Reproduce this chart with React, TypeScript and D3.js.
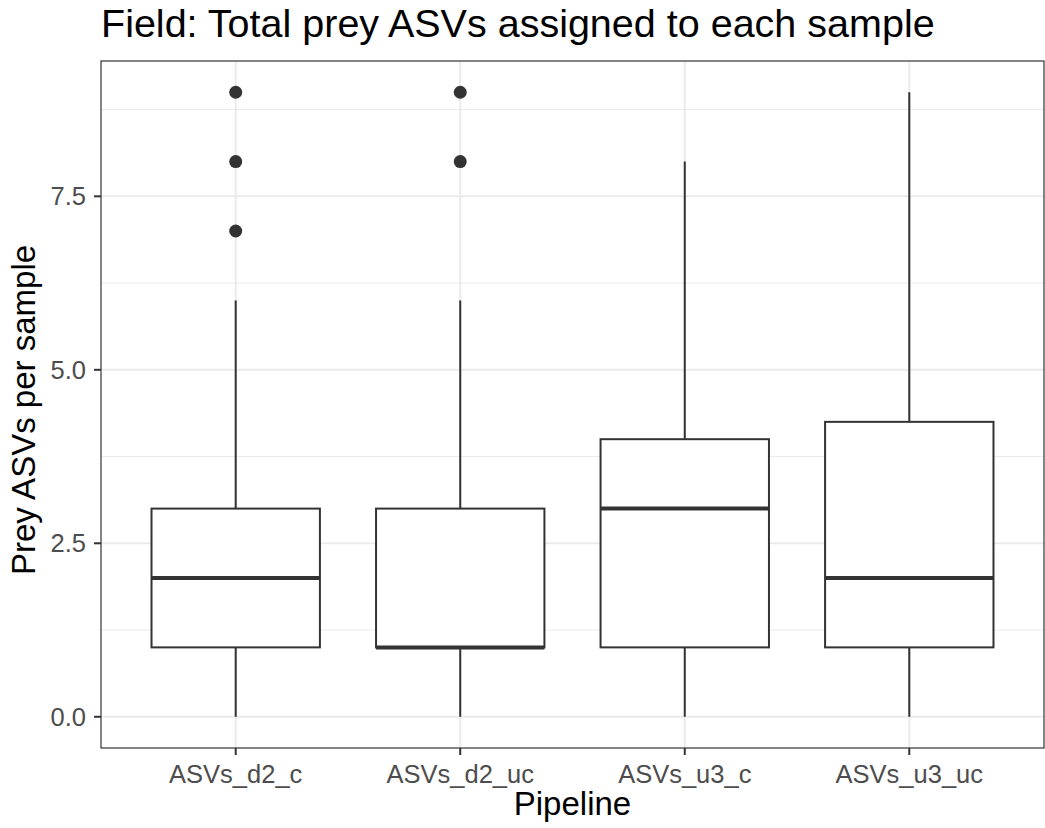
import * as React from 'react';
import * as d3 from 'd3';

const pipelines: string[] = ['ASVs_d2_c', 'ASVs_d2_uc', 'ASVs_u3_c', 'ASVs_u3_uc'];
const lowerWhisker: number[] = [0, 0, 0, 0];
const q1: number[] = [1, 1, 1, 1];
const medians: number[] = [2, 1, 3, 2];
const q3: number[] = [3, 3, 4, 4.25];
const upperWhisker: number[] = [6, 6, 8, 9];
const outliers: number[][] = [[7, 8, 9], [8, 9], [], []];
const yTicks: number[] = [0, 2.5, 5, 7.5];
const yMinor: number[] = [1.25, 3.75, 6.25, 8.75];

const W = 1045;
const H = 828;
const panel = { left: 101, right: 1044, top: 61, bottom: 748 };
const font = '"Liberation Sans", Arial, Helvetica, sans-serif';

export default function App() {
	// ggplot-style discrete expansion: 0.6 units each side
	const x = d3
		.scaleLinear()
		.domain([0.4, pipelines.length + 0.6])
		.range([panel.left, panel.right]);
	const y = d3.scaleLinear().domain([-0.45, 9.45]).range([panel.bottom, panel.top]);
	const boxW = x(0.75) - x(0);

	return (
		<svg
			width={W}
			height={H}
			viewBox={`0 0 ${W} ${H}`}
			style={{ position: 'absolute', left: 0, top: 0, background: '#fff' }}
		>
			<rect x={0} y={0} width={W} height={H} fill="#fff" />
			<text x={panel.left} y={37} fontFamily={font} fontSize={39.5} fill="#000">
				Field: Total prey ASVs assigned to each sample
			</text>

			{/* grid */}
			<g>
				{yMinor.map((v) => (
					<line key={'mn' + v} x1={panel.left} x2={panel.right} y1={y(v)} y2={y(v)} stroke="#ebebeb" strokeWidth={1} />
				))}
				{yTicks.map((v) => (
					<line key={'mj' + v} x1={panel.left} x2={panel.right} y1={y(v)} y2={y(v)} stroke="#ebebeb" strokeWidth={2} />
				))}
				{pipelines.map((p, i) => (
					<line key={'vx' + p} x1={x(i + 1)} x2={x(i + 1)} y1={panel.top} y2={panel.bottom} stroke="#ebebeb" strokeWidth={2} />
				))}
			</g>

			{/* boxes */}
			{pipelines.map((p, i) => {
				const cx = x(i + 1);
				return (
					<g key={p}>
						<line x1={cx} x2={cx} y1={y(q3[i])} y2={y(upperWhisker[i])} stroke="#333333" strokeWidth={2} />
						<line x1={cx} x2={cx} y1={y(q1[i])} y2={y(lowerWhisker[i])} stroke="#333333" strokeWidth={2} />
						<rect
							x={cx - boxW / 2}
							y={y(q3[i])}
							width={boxW}
							height={y(q1[i]) - y(q3[i])}
							fill="#fff"
							stroke="#333333"
							strokeWidth={2}
						/>
						<line
							x1={cx - boxW / 2}
							x2={cx + boxW / 2}
							y1={y(medians[i])}
							y2={y(medians[i])}
							stroke="#333333"
							strokeWidth={4}
						/>
						{outliers[i].map((v) => (
							<circle key={v} cx={cx} cy={y(v)} r={6.5} fill="#333333" />
						))}
					</g>
				);
			})}

			{/* panel border */}
			<rect
				x={panel.left}
				y={panel.top}
				width={panel.right - panel.left}
				height={panel.bottom - panel.top}
				fill="none"
				stroke="#333333"
				strokeWidth={1.2}
			/>

			{/* y axis */}
			{yTicks.map((v) => (
				<g key={'yt' + v}>
					<line x1={panel.left - 7} x2={panel.left} y1={y(v)} y2={y(v)} stroke="#333333" strokeWidth={2} />
					<text
						x={86}
						y={y(v)}
						dy="0.35em"
						textAnchor="end"
						fontFamily={font}
						fontSize={25.5}
						fill="#4d4d4d"
					>
						{d3.format('.1f')(v)}
					</text>
				</g>
			))}

			{/* x axis */}
			{pipelines.map((p, i) => (
				<g key={'xt' + p}>
					<line x1={x(i + 1)} x2={x(i + 1)} y1={panel.bottom} y2={panel.bottom + 7} stroke="#333333" strokeWidth={2} />
					<text x={x(i + 1)} y={783} textAnchor="middle" fontFamily={font} fontSize={25.5} fill="#4d4d4d">
						{p}
					</text>
				</g>
			))}

			<text x={(panel.left + panel.right) / 2} y={815} textAnchor="middle" fontFamily={font} fontSize={33} fill="#000">
				Pipeline
			</text>
			<text
				transform={`translate(35, 410) rotate(-90)`}
				textAnchor="middle"
				fontFamily={font}
				fontSize={33}
				fill="#000"
			>
				Prey ASVs per sample
			</text>
		</svg>
	);
}
